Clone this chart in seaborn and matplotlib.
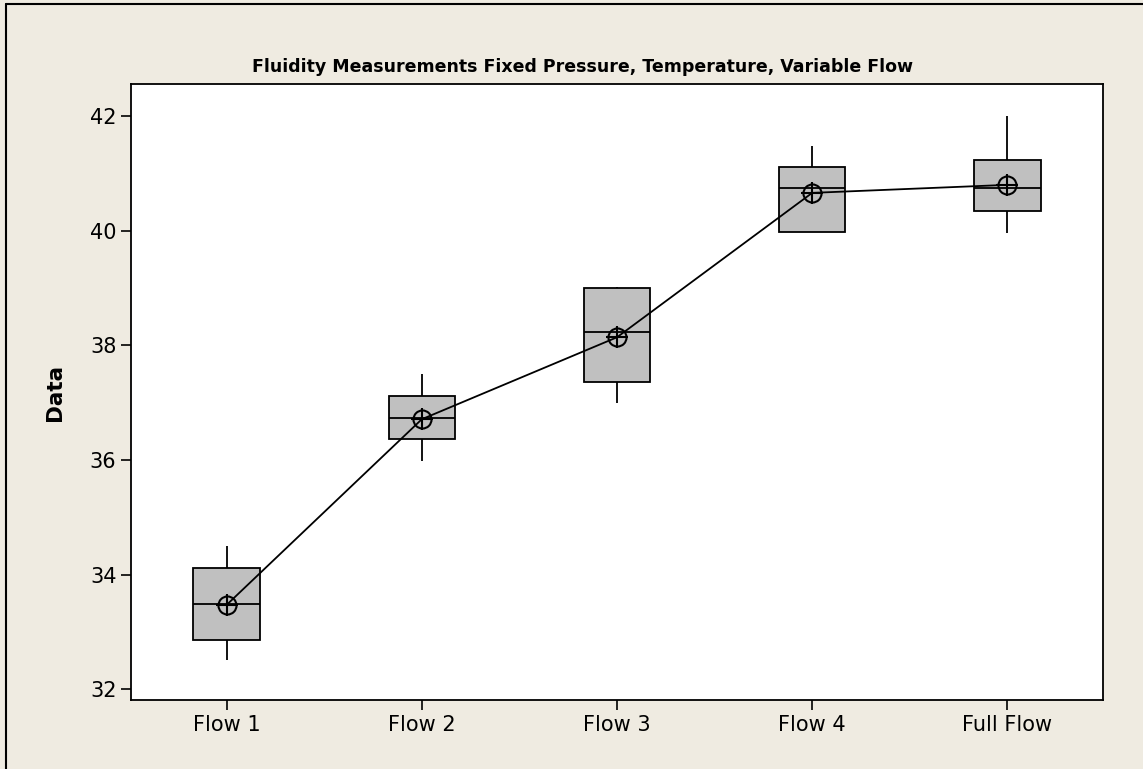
#%% import libraries
import numpy as np
import pandas as pd
import seaborn as sns
import matplotlib.pyplot as plt
from matplotlib.lines import Line2D

#%% data
flows = ['Flow 1', 'Flow 2', 'Flow 3', 'Flow 4', 'Full Flow']
mins = [32.5, 35.98, 36.99, 39.97, 39.96]
q1s = [32.85, 36.36, 37.36, 39.98, 40.34]
medians = [33.48, 36.73, 38.23, 40.74, 40.74]
q3s = [34.12, 37.11, 39.0, 41.11, 41.23]
maxs = [34.5, 37.5, 39.02, 41.48, 42.0]
means = [33.47, 36.71, 38.14, 40.66, 40.8]

# five numbers per group -> seaborn reproduces the boxes with whis=(0, 100)
rows = []
for i, f in enumerate(flows):
    for v in (mins[i], q1s[i], medians[i], q3s[i], maxs[i]):
        rows.append({'Flow': f, 'Data': v})
df = pd.DataFrame(rows)

#%% plot
sns.set_style('white')
plt.rcParams['text.color'] = 'black'
plt.rcParams['axes.labelcolor'] = 'black'
plt.rcParams['xtick.color'] = 'black'
plt.rcParams['ytick.color'] = 'black'
bg = '#EFEBE1'

fig = plt.figure(figsize=(11.43, 7.69), dpi=100, facecolor=bg)
ax = fig.add_axes([131/1143, 1 - 700/769, (1103-131)/1143, (700-84)/769])
ax.set_facecolor('white')

sns.boxplot(data=df, x='Flow', y='Data', order=flows, whis=(0, 100),
            width=0.34, color='#C0C0C0', linecolor='black', linewidth=1.3,
            showcaps=False, saturation=1, ax=ax)

# mean connect line
sns.pointplot(x=flows, y=means, color='black', markers='o', markersize=13,
              markerfacecolor='none', markeredgewidth=1.5, linewidth=1.3,
              errorbar=None, ax=ax)
sns.scatterplot(x=flows, y=means, marker='+', s=260, color='black',
                linewidth=1.5, ax=ax, zorder=5)

ax.set_xlim(-0.49, 4.49)
ax.set_ylim(31.81, 42.56)
ax.set_yticks([32, 34, 36, 38, 40, 42])

for s in ax.spines.values():
    s.set_visible(True)
    s.set_color('black')
    s.set_linewidth(1.3)

ax.tick_params(axis='both', direction='out', length=7, width=1.2, color='black',
               labelcolor='black', labelsize=15, left=True, bottom=True)
ax.set_xlabel('')
ax.set_ylabel('Data', fontsize=15.5, fontweight='bold', labelpad=18, color='black')

fig.text(582/1143, 1 - 67/769, 'Fluidity Measurements Fixed Pressure, Temperature, Variable Flow',
         ha='center', va='center', fontsize=12.5, fontweight='bold', color='black')

# outer frame (left and top edges)
fig.add_artist(Line2D([6/1143, 6/1143], [0, 1 - 4/769], color='black', lw=1.5))
fig.add_artist(Line2D([6/1143, 1], [1 - 4/769, 1 - 4/769], color='black', lw=1.5))

plt.savefig('out.png', dpi=100, facecolor=bg)
